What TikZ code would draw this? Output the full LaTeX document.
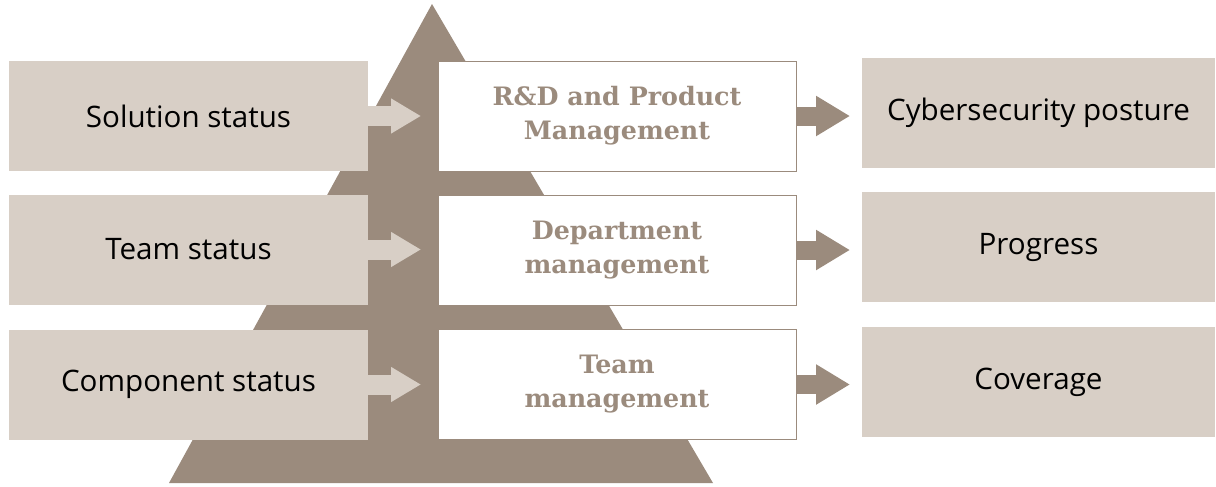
\documentclass[tikz,border=0pt]{standalone}
\usepackage{fontspec}
\setmainfont{Open Sans}
\newfontfamily\slabfont{DejaVu Serif}
\usetikzlibrary{calc,positioning,arrows.meta}
\definecolor{pyrbrown}{RGB}{155,139,125}
\definecolor{pyrlight}{RGB}{216,207,198}

\begin{document}
\begin{tikzpicture}[x=0.75pt,y=-0.75pt,
	status/.style={fill=pyrlight,minimum width=269.25pt,minimum height=82.5pt,inner sep=0pt,outer sep=0pt,font=\fontsize{22.2}{26}\selectfont},
	result/.style={status,minimum width=264.75pt},
	level/.style={fill=white,draw=pyrbrown,line width=0.75pt,minimum width=268.5pt,minimum height=82.5pt,inner sep=0pt,outer sep=0pt,align=center,text=pyrbrown,font=\slabfont\bfseries\fontsize{19}{25.5}\selectfont},
	feed/.style={draw=pyrlight,line width=15pt,-{Triangle[length=22.5pt,width=24.75pt]},shorten >=12.75pt},
	outflow/.style={draw=pyrbrown,line width=14.25pt,-{Triangle[length=25.5pt,width=28.5pt]},shorten >=9pt}]%%%pyramid of management levels
\useasboundingbox (0,0) rectangle (1216,486);
\fill[pyrbrown] (432,4) -- (713,483) -- (169,483) -- cycle;
%%% inputs
\node [status] (sol) at (188.5,116) {Solution status};
\node [status] (team) at (188.5,249.5) {Team status};
\node [status] (comp) at (188.5,384.5) {Component status};
%%% levels
\node [level] (rnd) at (617,116) {R\&D and Product\\Management};
\node [level] (dept) at (617,250) {Department\\management};
\node [level] (teammgmt) at (617,384.5) {Team\\management};
%%% outputs
\node [result] (posture) at (1038.5,113) {Cybersecurity posture};
\node [result] (progress) at (1038.5,247) {Progress};
\node [result] (coverage) at (1038.5,382) {Coverage};
%%% arrows
\draw[feed] (sol.east) -- (sol.east -| rnd.west);
\draw[feed] (team.east) -- (team.east -| dept.west);
\draw[feed] (comp.east) -- (comp.east -| teammgmt.west);
\draw[outflow] (rnd.east) -- (rnd.east -| posture.west);
\draw[outflow] (dept.east) -- (dept.east -| progress.west);
\draw[outflow] (teammgmt.east) -- (teammgmt.east -| coverage.west);
\end{tikzpicture}
\end{document}
